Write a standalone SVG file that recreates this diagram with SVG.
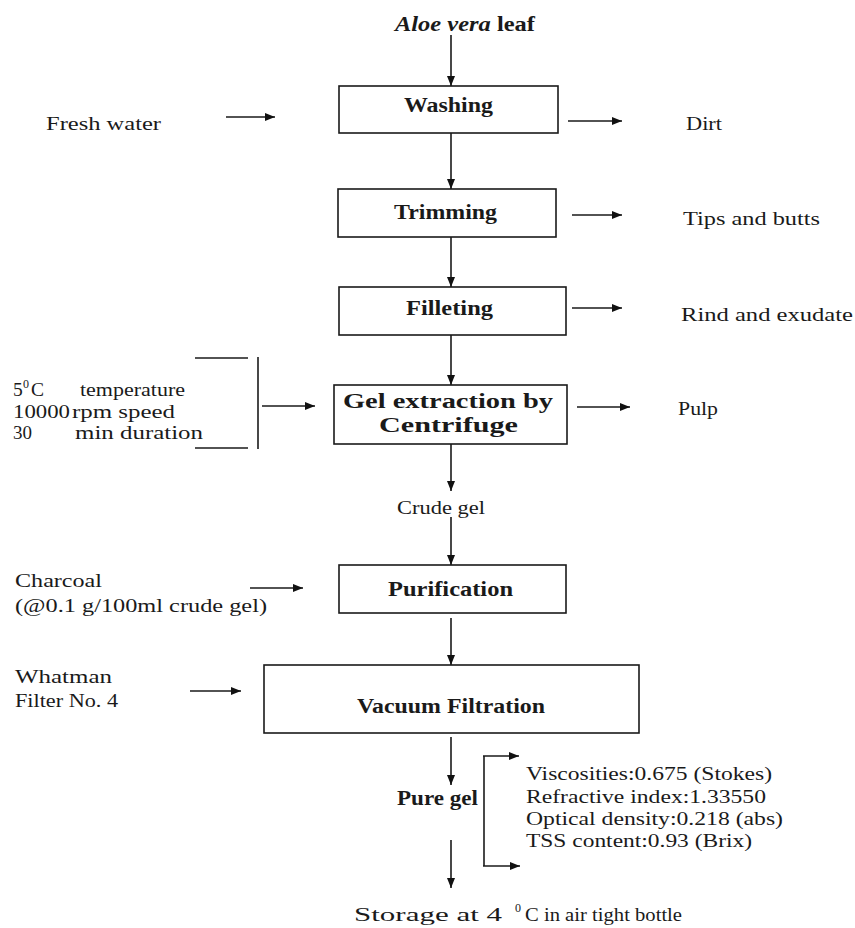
<svg xmlns="http://www.w3.org/2000/svg" width="855" height="928" viewBox="0 0 855 928">
<defs>
<marker id="ah" viewBox="0 0 10 8" refX="10" refY="4" markerWidth="10" markerHeight="8" markerUnits="userSpaceOnUse" orient="auto">
<path d="M0,0 L10,4 L0,8 Z" fill="#111"/>
</marker>
<style>
text{font-family:"Liberation Serif","Times New Roman",serif;font-size:19.5px;fill:#1a1a1a}
text.b{font-weight:bold;font-size:20.5px}
text.sup{font-size:12px}
.box{fill:#fff;stroke:#1a1a1a;stroke-width:1.6}
.ln{stroke:#1a1a1a;stroke-width:1.6;fill:none}
.ar{stroke:#1a1a1a;stroke-width:1.6;fill:none;marker-end:url(#ah)}
</style>
</defs>
<rect width="855" height="928" fill="#fff"/>

<g id="connectors">
<line class="ar" x1="451" y1="35" x2="451" y2="86"/>
<line class="ar" x1="451" y1="133" x2="451" y2="189"/>
<line class="ar" x1="451" y1="237" x2="451" y2="287"/>
<line class="ar" x1="451" y1="335" x2="451" y2="385"/>
<line class="ar" x1="451" y1="444" x2="451" y2="491"/>
<line class="ar" x1="451" y1="517" x2="451" y2="565"/>
<line class="ar" x1="451" y1="618" x2="451" y2="665"/>
<line class="ar" x1="451" y1="737" x2="451" y2="785"/>
<line class="ar" x1="451" y1="840" x2="451" y2="888"/>
<line class="ar" x1="226" y1="117" x2="275" y2="117"/>
<line class="ar" x1="568" y1="121" x2="622" y2="121"/>
<line class="ar" x1="572" y1="215" x2="622" y2="215"/>
<line class="ar" x1="572" y1="308" x2="622" y2="308"/>
<line class="ar" x1="577" y1="407" x2="630" y2="407"/>
<line class="ln" x1="258" y1="357" x2="258" y2="449"/>
<line class="ln" x1="195" y1="358" x2="248" y2="358"/>
<line class="ln" x1="195" y1="448" x2="248" y2="448"/>
<line class="ar" x1="262" y1="406" x2="315" y2="406"/>
<line class="ar" x1="250" y1="588" x2="303" y2="588"/>
<line class="ar" x1="190" y1="691" x2="241" y2="691"/>
<path class="ln" d="M484,756 L484,866"/>
<line class="ar" x1="483" y1="756" x2="519" y2="756"/>
<line class="ar" x1="483" y1="866" x2="520" y2="866"/>
</g>

<g id="aloe"><text class="b" x="395" y="31" textLength="140" lengthAdjust="spacingAndGlyphs"><tspan font-style="italic">Aloe vera</tspan> leaf</text></g>

<g id="washing">
<rect class="box" x="339" y="86" width="219" height="47"/>
<text class="b" x="404" y="112" textLength="89" lengthAdjust="spacingAndGlyphs">Washing</text>
</g>
<g id="freshwater"><text x="46" y="130" textLength="115" lengthAdjust="spacingAndGlyphs">Fresh water</text></g>
<g id="dirt"><text x="686" y="130" textLength="36" lengthAdjust="spacingAndGlyphs">Dirt</text></g>

<g id="trimming">
<rect class="box" x="338" y="189" width="218" height="48"/>
<text class="b" x="394" y="219" textLength="103" lengthAdjust="spacingAndGlyphs">Trimming</text>
</g>
<g id="tips"><text x="683" y="225" textLength="137" lengthAdjust="spacingAndGlyphs">Tips and butts</text></g>

<g id="filleting">
<rect class="box" x="339" y="287" width="227" height="48"/>
<text class="b" x="406" y="315" textLength="87" lengthAdjust="spacingAndGlyphs">Filleting</text>
</g>
<g id="rind"><text x="681" y="321" textLength="172" lengthAdjust="spacingAndGlyphs">Rind and exudate</text></g>

<g id="gelextraction">
<rect class="box" x="334" y="385" width="233" height="59"/>
<text class="b" x="343" y="408" textLength="210" lengthAdjust="spacingAndGlyphs">Gel extraction by</text>
<text class="b" x="379" y="432" textLength="139" lengthAdjust="spacingAndGlyphs">Centrifuge</text>
</g>
<g id="pulp"><text x="678" y="415" textLength="40" lengthAdjust="spacingAndGlyphs">Pulp</text></g>

<g id="conditions">
<text x="13" y="396">5</text>
<text class="sup" x="23" y="388">0</text>
<text x="31" y="396">C</text>
<text x="80" y="396" textLength="105" lengthAdjust="spacingAndGlyphs">temperature</text>
<text x="13" y="418" textLength="57" lengthAdjust="spacingAndGlyphs">10000</text>
<text x="72" y="418" textLength="103" lengthAdjust="spacingAndGlyphs">rpm speed</text>
<text x="13" y="439" textLength="19" lengthAdjust="spacingAndGlyphs">30</text>
<text x="75" y="439" textLength="128" lengthAdjust="spacingAndGlyphs">min duration</text>
</g>

<g id="crudegel"><text x="397" y="514" textLength="88" lengthAdjust="spacingAndGlyphs">Crude gel</text></g>

<g id="purification">
<rect class="box" x="339" y="565" width="227" height="48"/>
<text class="b" x="388" y="596" textLength="125" lengthAdjust="spacingAndGlyphs">Purification</text>
</g>
<g id="charcoal">
<text x="15" y="587" textLength="87" lengthAdjust="spacingAndGlyphs">Charcoal</text>
<text x="15" y="612" textLength="252" lengthAdjust="spacingAndGlyphs">(@0.1 g/100ml crude gel)</text>
</g>

<g id="whatman">
<text x="15" y="683" textLength="97" lengthAdjust="spacingAndGlyphs">Whatman</text>
<text x="15" y="707" textLength="103" lengthAdjust="spacingAndGlyphs">Filter No. 4</text>
</g>

<g id="vacuum">
<rect class="box" x="264" y="665" width="375" height="68"/>
<text class="b" x="357" y="713" textLength="188" lengthAdjust="spacingAndGlyphs">Vacuum Filtration</text>
</g>

<g id="puregel"><text class="b" x="397" y="805" textLength="81" lengthAdjust="spacingAndGlyphs">Pure gel</text></g>

<g id="properties">
<text x="526" y="780" textLength="246" lengthAdjust="spacingAndGlyphs">Viscosities:0.675 (Stokes)</text>
<text x="526" y="803" textLength="240" lengthAdjust="spacingAndGlyphs">Refractive index:1.33550</text>
<text x="526" y="825" textLength="257" lengthAdjust="spacingAndGlyphs">Optical density:0.218 (abs)</text>
<text x="526" y="847" textLength="226" lengthAdjust="spacingAndGlyphs">TSS content:0.93 (Brix)</text>
</g>

<g id="storage">
<text x="354" y="921" textLength="148" lengthAdjust="spacingAndGlyphs">Storage at 4</text>
<text class="sup" x="515" y="912">0</text>
<text x="525" y="921" textLength="157" lengthAdjust="spacingAndGlyphs">C in air tight bottle</text>
</g>
</svg>
